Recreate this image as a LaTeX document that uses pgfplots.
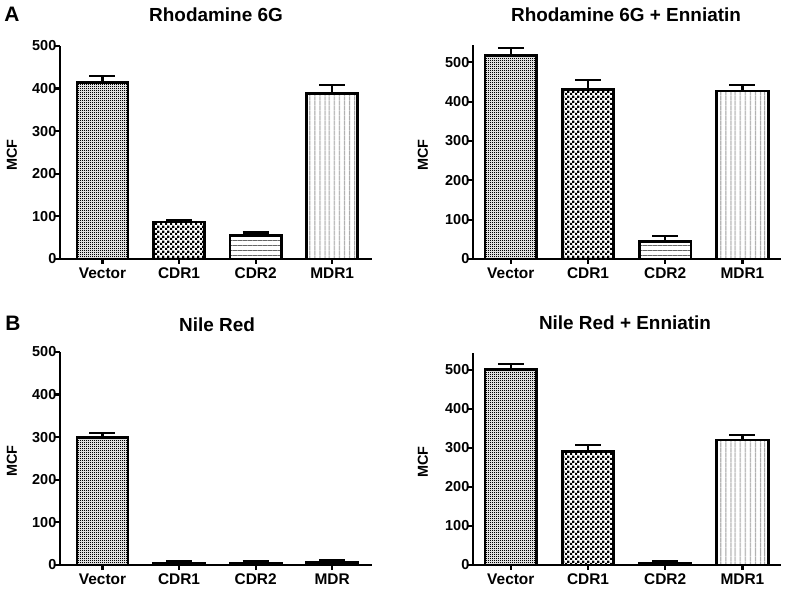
\documentclass[border=0pt]{standalone}
\usepackage{fontspec}
\setmainfont{Liberation Sans}
\usepackage{pgfplots}
\pgfplotsset{compat=1.18}
\usetikzlibrary{patterns,patterns.meta}

\pgfdeclarepatternformonly{finecheck}{\pgfpointorigin}{\pgfpoint{2bp}{2bp}}{\pgfpoint{2bp}{2bp}}{%
  \pgfpathrectangle{\pgfpointorigin}{\pgfpoint{1.2bp}{1.2bp}}%
  \pgfpathrectangle{\pgfpoint{1bp}{1bp}}{\pgfpoint{1.2bp}{1.2bp}}%
  \pgfusepath{fill}}
\pgfdeclarepatternformonly{coarsecheck}{\pgfpointorigin}{\pgfpoint{5bp}{5bp}}{\pgfpoint{5bp}{5bp}}{%
  \pgfpathrectangle{\pgfpointorigin}{\pgfpoint{2.6bp}{2.6bp}}%
  \pgfpathrectangle{\pgfpoint{2.5bp}{2.5bp}}{\pgfpoint{2.6bp}{2.6bp}}%
  \pgfusepath{fill}}

\pgfplotsset{
  panel/.style={
    scale only axis,
    axis lines=left,
    axis line style={-, line width=2.4bp, black},
    tick align=outside,
    major tick length=5bp,
    tick style={line width=2.2bp, black},
    ymin=0,
    ytick={0,100,200,300,400,500},
    xtick={0,1,2,3},
    /pgf/number format/assume math mode=true,
    ticklabel style={font=\bfseries\fontsize{14.5}{14.5}\selectfont},
    yticklabel style={inner sep=0bp, xshift=1.5bp},
    xticklabel style={inner sep=0bp, yshift=-4bp, font=\bfseries\fontsize{15.5}{15.5}\selectfont},
    clip=false,
  },
  mybar/.style={
    ybar, bar width=0.667, bar shift=0pt, draw=black, line width=2.7bp,
    /pgfplots/error bars/y dir=plus, /pgfplots/error bars/y explicit,
    /pgfplots/error bars/error bar style={line width=2.2bp, black},
    /pgfplots/error bars/error mark options={rotate=90, mark size=13bp, line width=2.2bp, black},
  },
}
\tikzset{
  vec/.style={pattern=finecheck, pattern color=black},
  cdra/.style={pattern=coarsecheck, pattern color=black},
  cdrb/.style={pattern={Lines[angle=0, distance=5bp, line width=0.8bp]}, pattern color=black!60},
  mdr/.style={pattern={Lines[angle=90, distance=5.2bp, line width=0.8bp]}, pattern color=black!60},
}

\begin{document}
\begin{tikzpicture}
\useasboundingbox (0bp,0bp) rectangle (789bp,595bp);

% ---------- Panel A left ----------
\begin{axis}[panel, at={(60bp,336bp)}, anchor=south west, width=312bp, height=213bp,
  xmin=-0.555, xmax=3.52, ymax=500,
  xticklabels={Vector,CDR1,CDR2,MDR1}]
\addplot[mybar, vec] coordinates {(0,415) +- (0,15)};
\addplot[mybar, cdra] coordinates {(1,87) +- (0,5)};
\addplot[mybar, cdrb] coordinates {(2,55) +- (0,7)};
\addplot[mybar, mdr] coordinates {(3,389) +- (0,20)};
\end{axis}

% ---------- Panel A right ----------
\begin{axis}[panel, at={(473bp,336bp)}, anchor=south west, width=308bp, height=214bp,
  xmin=-0.49, xmax=3.5, ymax=544,
  xticklabels={Vector,CDR1,CDR2,MDR1}]
\addplot[mybar, vec] coordinates {(0,517) +- (0,19)};
\addplot[mybar, cdra] coordinates {(1,431) +- (0,24)};
\addplot[mybar, cdrb] coordinates {(2,45) +- (0,14)};
\addplot[mybar, mdr] coordinates {(3,427) +- (0,15)};
\end{axis}

% ---------- Panel B left ----------
\begin{axis}[panel, at={(60bp,30bp)}, anchor=south west, width=312bp, height=213bp,
  xmin=-0.555, xmax=3.52, ymax=500,
  xticklabels={Vector,CDR1,CDR2,MDR}]
\addplot[mybar, vec] coordinates {(0,300) +- (0,10)};
\addplot[mybar, cdra] coordinates {(1,5) +- (0,4)};
\addplot[mybar, cdrb] coordinates {(2,5) +- (0,3)};
\addplot[mybar, mdr] coordinates {(3,6) +- (0,5)};
\end{axis}

% ---------- Panel B right ----------
\begin{axis}[panel, at={(473bp,30bp)}, anchor=south west, width=308bp, height=212bp,
  xmin=-0.49, xmax=3.5, ymax=543,
  xticklabels={Vector,CDR1,CDR2,MDR1}]
\addplot[mybar, vec] coordinates {(0,501) +- (0,14)};
\addplot[mybar, cdra] coordinates {(1,290) +- (0,18)};
\addplot[mybar, cdrb] coordinates {(2,5) +- (0,5)};
\addplot[mybar, mdr] coordinates {(3,320) +- (0,13)};
\end{axis}

% titles and labels
\node[font=\bfseries\fontsize{19}{19}\selectfont] at (216bp,580bp) {Rhodamine 6G};
\node[font=\bfseries\fontsize{19}{19}\selectfont] at (626bp,580bp) {Rhodamine 6G + Enniatin};
\node[font=\bfseries\fontsize{19}{19}\selectfont] at (217bp,270bp) {Nile Red};
\node[font=\bfseries\fontsize{19}{19}\selectfont] at (625bp,272bp) {Nile Red + Enniatin};
\node[font=\bfseries\fontsize{21}{21}\selectfont] at (12bp,581bp) {A};
\node[font=\bfseries\fontsize{21}{21}\selectfont] at (13bp,272bp) {B};
\node[font=\bfseries\fontsize{14.5}{14.5}\selectfont, rotate=90] at (12bp,440bp) {MCF};
\node[font=\bfseries\fontsize{14.5}{14.5}\selectfont, rotate=90] at (423bp,440bp) {MCF};
\node[font=\bfseries\fontsize{14.5}{14.5}\selectfont, rotate=90] at (12bp,134bp) {MCF};
\node[font=\bfseries\fontsize{14.5}{14.5}\selectfont, rotate=90] at (423bp,133bp) {MCF};
\end{tikzpicture}
\end{document}
